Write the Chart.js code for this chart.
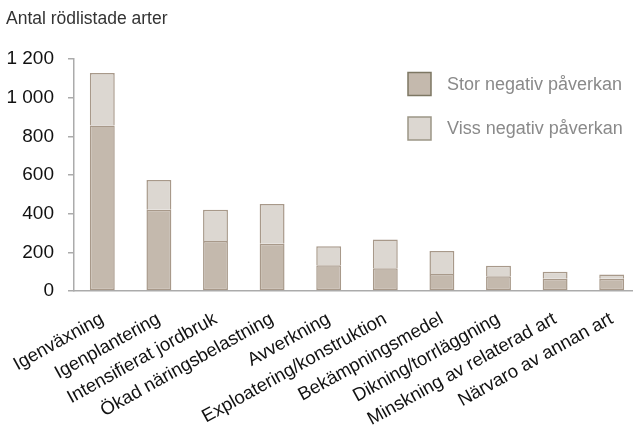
<!DOCTYPE html>
<html>
<head>
<meta charset="utf-8">
<script src="https://cdn.jsdelivr.net/npm/chart.js@4.4.1/dist/chart.umd.min.js"></script>
<style>
  html, body { margin: 0; padding: 0; background: #fff; overflow: hidden; }
  #wrap { width: 633px; height: 428px; overflow: hidden; }
  canvas { display: block; }
</style>
</head>
<body>
<div id="wrap"><canvas id="c" width="640" height="428"></canvas></div>
<script>
const categories = [
  "Igenväxning",
  "Igenplantering",
  "Intensifierat jordbruk",
  "Ökad näringsbelastning",
  "Avverkning",
  "Exploatering/konstruktion",
  "Bekämpningsmedel",
  "Dikning/torrläggning",
  "Minskning av relaterad art",
  "Närvaro av annan art"
];
const storNegativ = [856, 420, 259, 244, 133, 118, 88, 76, 64, 64];
const vissNegativ = [271, 154, 161, 206, 99, 149, 119, 54, 36, 21];
const seriesNames = ["Stor negativ påverkan", "Viss negativ påverkan"];
const yTicks = [0, 200, 400, 600, 800, 1000, 1200];
const titleText = "Antal rödlistade arter";

const FONT = "'Liberation Sans', Arial, Helvetica, sans-serif";

const boxLegend = {
  id: 'boxLegend',
  afterDraw(chart, args, opts) {
    const ctx = chart.ctx;
    ctx.save();
    chart.data.datasets.forEach((ds, i) => {
      const x = opts.x, y = opts.y + i * opts.rowGap;
      ctx.fillStyle = ds.backgroundColor;
      ctx.fillRect(x, y, opts.box, opts.box);
      ctx.strokeStyle = opts.borders[i];
      ctx.lineWidth = 1.5;
      ctx.strokeRect(x, y, opts.box, opts.box);
      ctx.fillStyle = opts.color;
      ctx.font = opts.font;
      ctx.textBaseline = 'middle';
      ctx.textAlign = 'left';
      ctx.fillText(ds.label, x + opts.box + opts.gap, y + opts.box / 2 + 1);
    });
    ctx.restore();
  }
};

new Chart(document.getElementById('c'), {
  type: 'bar',
  data: {
    labels: categories,
    datasets: [
      {
        label: seriesNames[0],
        data: storNegativ,
        backgroundColor: '#c4b9ad',
        borderColor: '#a8998a',
        borderWidth: 1.5,
        borderSkipped: false
      },
      {
        label: seriesNames[1],
        data: vissNegativ,
        backgroundColor: '#dcd7d1',
        borderColor: '#a8998a',
        borderWidth: 1.5,
        borderSkipped: 'start'
      }
    ]
  },
  options: {
    responsive: false,
    animation: false,
    devicePixelRatio: 1,
    layout: { padding: { left: 6, right: 0, top: 0, bottom: 0 } },
    datasets: { bar: { barPercentage: 0.44, categoryPercentage: 1 } },
    plugins: {
      legend: { display: false },
      tooltip: { enabled: false },
      title: {
        display: true,
        text: titleText,
        align: 'start',
        color: '#333',
        font: { family: FONT, size: 17.5, weight: 'normal' },
        padding: { top: 9, bottom: 29 }
      },
      boxLegend: {
        x: 408, y: 72.5, box: 23, rowGap: 44.5, gap: 16,
        borders: ['#7d7763', '#9c9686'],
        color: '#8a8a8a',
        font: "18px " + FONT
      }
    },
    scales: {
      x: {
        stacked: true,
        grid: { display: false, drawTicks: false },
        border: { display: true, color: '#ababab', width: 1.5 },
        ticks: {
          autoSkip: false,
          maxRotation: 29,
          minRotation: 29,
          padding: 17,
          color: '#111',
          font: { family: FONT, size: 18.5 }
        },
        afterFit(scale) {
          scale.height = 137;
          scale.paddingLeft = 0;
          scale.paddingRight = 0;
        }
      },
      y: {
        stacked: true,
        min: 0,
        max: 1200,
        afterBuildTicks(scale) { scale.ticks = yTicks.map(v => ({ value: v })); },
        grid: { display: true, drawOnChartArea: false, drawTicks: true, tickLength: 6, color: '#ababab', lineWidth: 1.5 },
        border: { display: true, color: '#ababab', width: 1.5 },
        ticks: {
          padding: 14,
          color: '#111',
          font: { family: FONT, size: 19 },
          callback: v => String(v).replace(/\B(?=(\d{3})+(?!\d))/g, ' ')
        },
        afterFit(scale) { scale.width = 68; }
      }
    }
  },
  plugins: [boxLegend]
});
</script>
</body>
</html>
